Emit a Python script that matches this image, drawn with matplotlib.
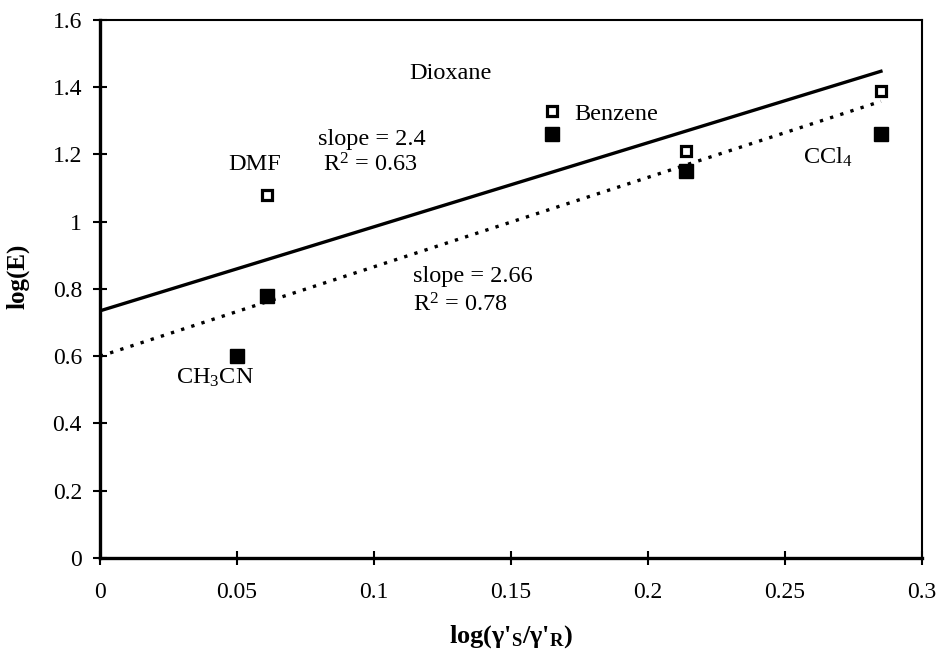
import numpy as np
import matplotlib
matplotlib.use("Agg")
import matplotlib.pyplot as plt

plt.rcParams['font.family'] = ['Liberation Serif', 'DejaVu Serif']
plt.rcParams['mathtext.fontset'] = 'custom'
plt.rcParams['mathtext.rm'] = 'Liberation Serif'
plt.rcParams['mathtext.it'] = 'Liberation Serif:italic'
plt.rcParams['mathtext.bf'] = 'Liberation Serif:bold'

# data
solvents = ['DMF', 'CH$_3$CN', 'Dioxane', 'Benzene', 'CCl$_4$']
x_open = [0.061, 0.165, 0.214, 0.285]
y_open = [1.08, 1.33, 1.21, 1.39]
x_filled = [0.061, 0.050, 0.165, 0.214, 0.285]
y_filled = [0.78, 0.60, 1.26, 1.15, 1.26]

# trend lines as printed on the chart
slope_open, icpt_open = 2.5, 0.735
slope_filled, icpt_filled = 2.66, 0.60
line_x = np.array([0.0, 0.285])

fig = plt.figure(figsize=(9.38, 6.53), dpi=100)
ax = fig.add_axes([0.1066, 0.1455, 0.8764, 0.8239])

ax.plot(line_x, icpt_open + slope_open * line_x, color='k', lw=2.4)
ax.plot(line_x, icpt_filled + slope_filled * line_x, color='k', lw=2.4,
        linestyle=(0, (1, 2.2)))

ax.plot(x_open, y_open, 's', ms=7, mfc='white', mec='k', mew=2.3, ls='none', zorder=3)
ax.plot(x_filled, y_filled, 's', ms=10, mfc='k', mec='k', ls='none', zorder=3)

fs = 17.5
ax.text(0.0566, 1.17, solvents[0], fontsize=fs, ha='center', va='center')
ax.text(0.042, 0.535, solvents[1], fontsize=fs, ha='center', va='center')
ax.text(0.113, 1.44, solvents[2], fontsize=fs, ha='left', va='center')
ax.text(0.173, 1.32, solvents[3], fontsize=fs, ha='left', va='center')
ax.text(0.2655, 1.19, solvents[4], fontsize=fs, ha='center', va='center')

ax.text(0.0796, 1.244, 'slope = 2.4', fontsize=fs, ha='left', va='center')
ax.text(0.0814, 1.17, 'R$^2$ = 0.63', fontsize=fs, ha='left', va='center')
ax.text(0.1142, 0.836, 'slope = 2.66', fontsize=fs, ha='left', va='center')
ax.text(0.1142, 0.753, 'R$^2$ = 0.78', fontsize=fs, ha='left', va='center')

ax.set_xlim(0, 0.3)
ax.set_ylim(0, 1.6)
ax.set_xticks([0, 0.05, 0.1, 0.15, 0.2, 0.25, 0.3])
ax.set_xticklabels(['0', '0.05', '0.1', '0.15', '0.2', '0.25', '0.3'])
ax.set_yticks([0, 0.2, 0.4, 0.6, 0.8, 1.0, 1.2, 1.4, 1.6])
ax.set_yticklabels(['0', '0.2', '0.4', '0.6', '0.8', '1', '1.2', '1.4', '1.6'])
ax.tick_params(direction='inout', length=10, width=1.5, labelsize=17)
ax.tick_params(axis='x', pad=12)
ax.tick_params(axis='y', pad=8)
for s in ax.spines.values():
    s.set_linewidth(1.5)
ax.spines['left'].set_linewidth(2.4)
ax.spines['bottom'].set_linewidth(2.4)

ax.set_xlabel(r"log(γ'$_\mathbf{S}$/γ'$_\mathbf{R}$)", fontsize=19,
              fontweight='bold')
ax.xaxis.set_label_coords(0.5, -0.122)
ax.set_ylabel('log(E)', fontsize=18, fontweight='bold')
ax.yaxis.set_label_coords(-0.086, 0.524)

fig.savefig('out.png', dpi=100)
